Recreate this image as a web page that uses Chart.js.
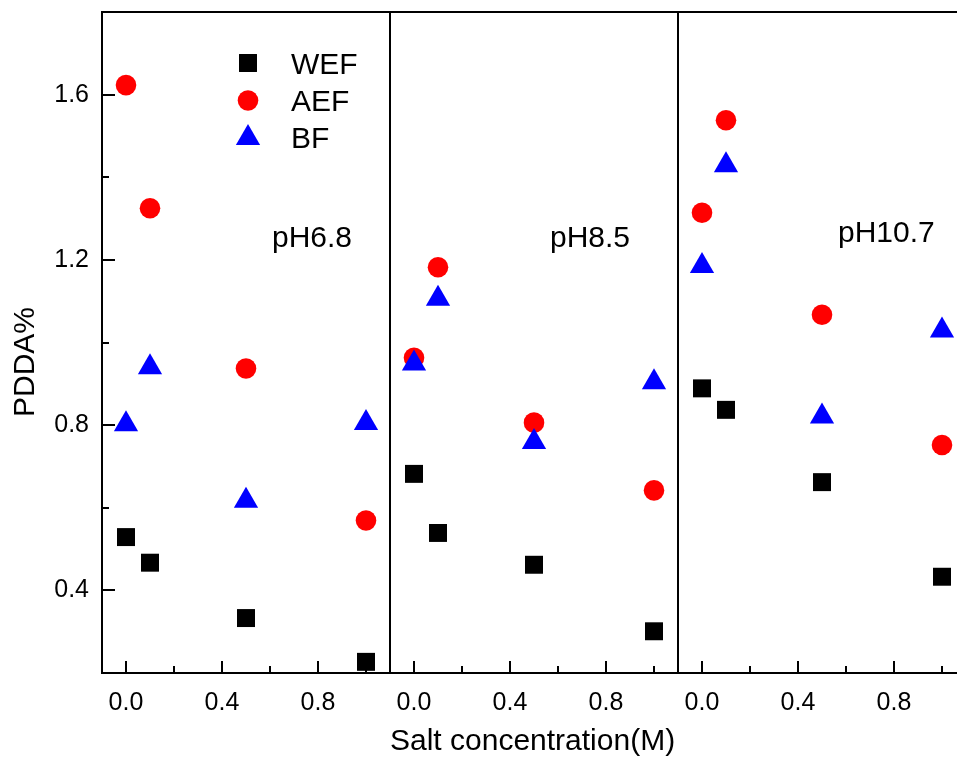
<!DOCTYPE html>
<html>
<head>
<meta charset="utf-8">
<script src="https://cdn.jsdelivr.net/npm/chart.js@4.4.1/dist/chart.umd.min.js"></script>
<style>
html,body{margin:0;padding:0;background:#fff;}
canvas{display:block;}
</style>
</head>
<body>
<canvas id="c" width="957" height="763"></canvas>
<script>
// ---- data ----
const salt = [0, 0.1, 0.5, 1.0];
const panelLabels = ['pH6.8', 'pH8.5', 'pH10.7'];
const seriesNames = ['WEF', 'AEF', 'BF'];

const wefPH68 = [0.529, 0.467, 0.333, 0.227];
const wefPH85 = [0.682, 0.539, 0.462, 0.301];
const wefPH107 = [0.889, 0.837, 0.662, 0.433];

const aefPH68 = [1.623, 1.325, 0.937, 0.569];
const aefPH85 = [0.963, 1.182, 0.806, 0.642];
const aefPH107 = [1.314, 1.538, 1.067, 0.752];

const bfPH68 = [0.802, 0.940, 0.617, 0.805];
const bfPH85 = [0.949, 1.106, 0.759, 0.904];
const bfPH107 = [1.185, 1.429, 0.821, 1.029];

const xMajorTicks = [0, 0.4, 0.8];
const xMinorTicks = [0.2, 0.6, 1.0];
const yMajorTicks = [0.4, 0.8, 1.2, 1.6];
const yMinorTicks = [0.6, 1.0, 1.4];

// ---- styling ----
const FONT = '"Liberation Sans", Arial, sans-serif';
const seriesStyle = {
  WEF: {color: '#000000', pointStyle: 'rect', radius: 12.7, order: 2},
  AEF: {color: '#ff0000', pointStyle: 'circle', radius: 10.3, order: 1},
  BF:  {color: '#0000ff', pointStyle: 'triangle', radius: 14, order: 0}
};
const seriesValues = {
  WEF: [wefPH68, wefPH85, wefPH107],
  AEF: [aefPH68, aefPH85, aefPH107],
  BF:  [bfPH68, bfPH85, bfPH107]
};
const axisIds = ['x1', 'x2', 'x3'];

const datasets = [];
seriesNames.forEach(name => {
  const st = seriesStyle[name];
  seriesValues[name].forEach((vals, p) => {
    datasets.push({
      label: name + ' ' + panelLabels[p],
      data: salt.map((s, i) => ({x: s, y: vals[i]})),
      xAxisID: axisIds[p],
      yAxisID: 'y',
      backgroundColor: st.color,
      borderColor: st.color,
      borderWidth: 0,
      pointStyle: st.pointStyle,
      pointRadius: st.radius,
      pointHoverRadius: st.radius,
      pointBorderWidth: 0,
      showLine: false,
      order: st.order,
      clip: false
    });
  });
});

function xScale(min, max, weight) {
  return {
    type: 'linear',
    position: 'bottom',
    stack: 'salt',
    stackWeight: weight,
    min: min,
    max: max,
    grid: {display: false, drawTicks: false},
    border: {display: false},
    afterBuildTicks: s => { s.ticks = xMajorTicks.map(v => ({value: v})); },
    afterFit: s => { s.height = 90; s.paddingLeft = 0; s.paddingRight = 0; s.paddingTop = 0; s.paddingBottom = 0; },
    ticks: {
      autoSkip: false,
      maxRotation: 0,
      padding: 15,
      color: '#000',
      font: {family: FONT, size: 25},
      callback: v => Number(v).toFixed(1)
    }
  };
}

const framePlugin = {
  id: 'frame',
  beforeDatasetsDraw(chart) {
    const ctx = chart.ctx;
    const a = chart.chartArea;
    const ys = chart.scales.y;
    ctx.save();
    ctx.strokeStyle = '#000';
    ctx.lineWidth = 2;
    ctx.lineCap = 'butt';
    const line = (x1, y1, x2, y2) => { ctx.beginPath(); ctx.moveTo(x1, y1); ctx.lineTo(x2, y2); ctx.stroke(); };
    axisIds.forEach(id => {
      const s = chart.scales[id];
      xMajorTicks.forEach(v => { const px = Math.round(s.getPixelForValue(v)); line(px, a.bottom, px, a.bottom - 12); });
      xMinorTicks.forEach(v => { if (v <= s.max) { const px = Math.round(s.getPixelForValue(v)); line(px, a.bottom, px, a.bottom - 7); } });
    });
    yMajorTicks.forEach(v => { const py = Math.round(ys.getPixelForValue(v)); line(a.left, py, a.left + 13, py); });
    yMinorTicks.forEach(v => { const py = Math.round(ys.getPixelForValue(v)); line(a.left, py, a.left + 7, py); });
    // frame
    line(a.left, a.top - 1, a.left, a.bottom + 1);
    line(a.left - 1, a.bottom, a.right, a.bottom);
    line(a.left - 1, a.top, a.right, a.top);
    ['x1', 'x2'].forEach(id => {
      const px = Math.round(chart.scales[id].right);
      line(px, a.top, px, a.bottom);
    });
    ctx.restore();
  },
  afterDraw(chart) {
    const ctx = chart.ctx;
    ctx.save();
    ctx.fillStyle = '#000';
    ctx.font = '30px ' + FONT;
    ctx.textAlign = 'left';
    ctx.textBaseline = 'alphabetic';
    // legend
    const legendY = [63, 100.5, 138];
    const baseY = [73.5, 110.7, 147.7];
    seriesNames.forEach((name, i) => {
      const st = seriesStyle[name];
      ctx.fillStyle = st.color;
      Chart.helpers.drawPoint(ctx, {pointStyle: st.pointStyle, radius: st.radius, rotation: 0, borderWidth: 0}, 248, legendY[i]);
      ctx.fillStyle = '#000';
      ctx.fillText(name, 291, baseY[i]);
    });
    // panel labels
    const labelPos = [[272, 247], [550, 247], [838, 241.5]];
    panelLabels.forEach((t, i) => ctx.fillText(t, labelPos[i][0], labelPos[i][1]));
    // axis titles
    ctx.fillText('Salt concentration(M)', 390, 750);
    ctx.save();
    ctx.translate(34, 417);
    ctx.rotate(-Math.PI / 2);
    ctx.fillText('PDDA%', 0, 0);
    ctx.restore();
    ctx.restore();
  }
};

new Chart(document.getElementById('c'), {
  type: 'scatter',
  data: {datasets: datasets},
  options: {
    responsive: false,
    animation: false,
    events: [],
    layout: {autoPadding: false, padding: {top: 12, left: 0, right: 0, bottom: 0}},
    plugins: {legend: {display: false}, tooltip: {enabled: false}},
    scales: {
      x1: xScale(-0.1, 1.1, 1.2),
      x2: xScale(-0.1, 1.1, 1.2),
      x3: xScale(-0.1, 1.0625, 1.1625),
      y: {
        type: 'linear',
        position: 'left',
        min: 0.2,
        max: 1.8,
        grid: {display: false, drawTicks: false},
        border: {display: false},
        afterBuildTicks: s => { s.ticks = yMajorTicks.map(v => ({value: v})); },
        afterFit: s => { s.width = 102; s.paddingTop = 0; s.paddingBottom = 0; s.paddingLeft = 0; s.paddingRight = 0; },
        ticks: {
          padding: 13,
          color: '#000',
          font: {family: FONT, size: 25},
          callback: v => Number(v).toFixed(1)
        }
      }
    }
  },
  plugins: [framePlugin]
});
</script>
</body>
</html>
